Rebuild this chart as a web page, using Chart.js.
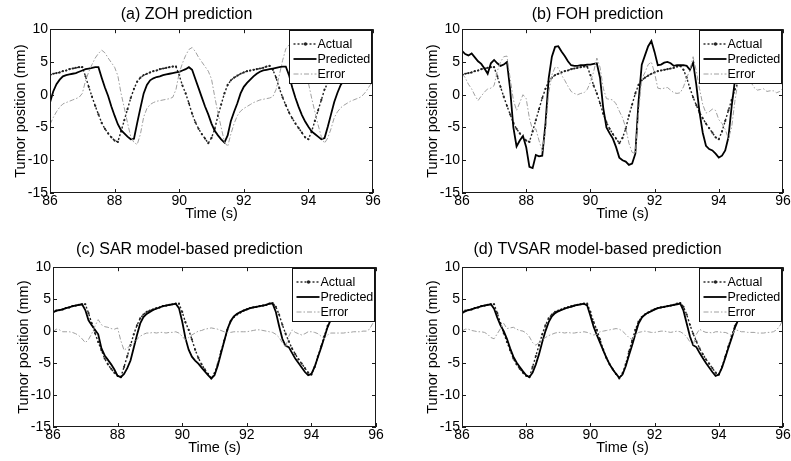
<!DOCTYPE html>
<html>
<head>
<meta charset="utf-8">
<script src="https://cdn.jsdelivr.net/npm/chart.js@4.4.0/dist/chart.umd.min.js"></script>
<style>
  html, body { margin: 0; padding: 0; background: #fff; }
  body { width: 791px; height: 461px; position: relative; overflow: hidden; }
  canvas { position: absolute; }
</style>
</head>
<body>
<canvas id="chartA" width="395" height="225" style="left:0;top:0"></canvas>
<canvas id="chartB" width="379" height="225" style="left:412px;top:0"></canvas>
<canvas id="chartC" width="392" height="221" style="left:3px;top:238px"></canvas>
<canvas id="chartD" width="379" height="221" style="left:412px;top:238px"></canvas>
<script>
// time axis (s), one sample every 0.1 s
const time = [
  86.0, 86.1, 86.2, 86.3, 86.4, 86.5, 86.6, 86.7, 86.8, 86.9,
  87.0, 87.1, 87.2, 87.3, 87.4, 87.5, 87.6, 87.7, 87.8, 87.9,
  88.0, 88.1, 88.2, 88.3, 88.4, 88.5, 88.6, 88.7, 88.8, 88.9,
  89.0, 89.1, 89.2, 89.3, 89.4, 89.5, 89.6, 89.7, 89.8, 89.9,
  90.0, 90.1, 90.2, 90.3, 90.4, 90.5, 90.6, 90.7, 90.8, 90.9,
  91.0, 91.1, 91.2, 91.3, 91.4, 91.5, 91.6, 91.7, 91.8, 91.9,
  92.0, 92.1, 92.2, 92.3, 92.4, 92.5, 92.6, 92.7, 92.8, 92.9,
  93.0, 93.1, 93.2, 93.3, 93.4, 93.5, 93.6, 93.7, 93.8, 93.9,
  94.0, 94.1, 94.2, 94.3, 94.4, 94.5, 94.6, 94.7, 94.8, 94.9,
  95.0, 95.1, 95.2, 95.3, 95.4, 95.5, 95.6, 95.7, 95.8, 95.9,
  96.0
]

const xTicks = [86, 88, 90, 92, 94, 96]
const yTicks = [-15, -10, -5, 0, 5, 10]
const seriesNames = ["Actual", "Predicted", "Error"]
const titles = ["(a) ZOH prediction", "(b) FOH prediction", "(c) SAR model-based prediction", "(d) TVSAR model-based prediction"]

// measured tumor position (same in every panel)
const actual = [
  3.0, 3.2, 3.3, 3.4, 3.6, 3.7, 3.9, 4.0, 4.1, 4.2,
  4.2, 2.8, 1.2, -0.3, -1.7, -3.0, -4.3, -5.2, -5.9, -6.5,
  -7.0, -7.2, -5.6, -3.9, -2.2, -0.5, 0.9, 2.0, 2.6, 3.0,
  3.2, 3.4, 3.6, 3.7, 3.9, 4.0, 4.1, 4.2, 4.3, 4.3,
  3.0, 1.4, 0.2, -1.3, -2.9, -4.2, -5.2, -6.0, -6.7, -7.4,
  -6.6, -5.2, -3.2, -1.5, 0.2, 1.5, 2.2, 2.6, 2.9, 3.2,
  3.4, 3.6, 3.7, 3.8, 3.9, 4.0, 4.1, 4.3, 4.4, 3.8,
  2.6, 1.0, -0.4, -1.6, -2.7, -3.6, -4.4, -5.1, -5.8, -6.5,
  -6.8, -5.6, -4.0, -2.4, -0.8, 0.8, 1.8, 2.4, 2.8, 3.1,
  3.3, 3.5, 3.7, 3.8, 3.9, 4.0, 4.1, 4.3, 4.3, 3.6,
  2.6
]

// (a) ZOH
const zohPred = [
  -1.2, 0.5, 1.6, 2.3, 2.8, 3.0, 3.1, 3.2, 3.3, 3.5,
  3.7, 3.9, 4.0, 4.1, 4.2, 4.2, 2.6, 1.1, -0.2, -1.8,
  -3.2, -4.5, -5.4, -5.9, -6.4, -6.8, -6.7, -4.3, -2.0, 0.2,
  1.5, 2.2, 2.5, 2.7, 2.8, 3.0, 3.1, 3.2, 3.3, 3.4,
  3.5, 3.7, 3.9, 4.2, 3.8, 2.4, 1.0, -0.4, -1.8, -3.0,
  -4.4, -5.5, -6.2, -6.8, -7.3, -6.2, -4.0, -2.6, -1.3, 0.2,
  1.2, 1.8, 2.3, 2.8, 3.2, 3.5, 3.7, 3.8, 3.9, 4.0,
  4.1, 4.2, 4.3, 4.3, 3.0, 1.1, -0.5, -1.9, -3.1, -4.1,
  -4.9, -5.6, -6.0, -6.4, -6.8, -6.6, -4.9, -3.0, -1.1, 0.3,
  1.5, 2.2, 2.7, 3.0, 3.2, 3.4, 3.6, 3.7, 3.8, 3.9,
  4.0
]
const zohErr = [
  -4.5, -3.5, -2.6, -1.9, -1.4, -1.2, -1.0, -0.8, -0.6, -0.4,
  0.2, 2.1, 3.5, 4.6, 5.6, 6.3, 6.8, 6.4, 5.6, 4.9,
  4.2, 2.9, 0.2, -2.0, -4.3, -6.4, -7.3, -7.6, -6.0, -3.4,
  -2.1, -1.5, -1.2, -1.0, -0.9, -0.8, -0.7, -0.6, -0.4, 0.8,
  3.3, 4.8, 6.0, 6.9, 7.2, 6.6, 5.7, 5.0, 4.3, 3.6,
  2.4, -0.3, -2.8, -5.0, -7.2, -7.9, -6.0, -4.4, -3.2, -2.5,
  -2.1, -1.8, -1.5, -1.2, -1.0, -0.8, -0.7, -0.6, -0.5, -0.3,
  0.8, 3.0, 5.2, 7.0, 7.6, 6.8, 5.0, 3.8, 3.0, 2.4,
  1.8, -0.5, -2.6, -4.6, -6.4, -7.4, -6.6, -5.2, -3.5, -2.6,
  -2.0, -1.6, -1.3, -1.0, -0.8, -0.6, -0.4, 0.0, 0.6, 1.4,
  2.0
]

// (b) FOH
const fohPred = [
  6.7, 6.2, 6.0, 6.3, 5.7, 5.1, 4.7, 4.0, 3.2, 4.8,
  5.3, 4.8, 4.4, 4.6, 5.0, 0.8, -5.0, -7.9, -7.0, -6.3,
  -8.0, -11.0, -11.2, -9.2, -9.4, -9.3, -4.5, 2.5, 5.8, 7.3,
  7.4, 6.6, 5.9, 5.1, 4.5, 4.4, 4.4, 4.5, 4.5, 4.6,
  4.6, 4.7, 4.8, 2.6, -2.0, -5.0, -5.9, -6.7, -8.0, -9.6,
  -10.0, -10.2, -10.7, -10.5, -9.0, -1.0, 4.6, 6.0, 7.4, 8.2,
  6.5, 4.5, 4.6, 4.9, 5.0, 4.8, 4.4, 4.5, 4.5, 4.5,
  4.4, 3.8, 4.9, 1.5, -2.7, -5.8, -7.8, -8.3, -8.5, -9.0,
  -9.6, -9.3, -8.5, -6.5, -1.8, 2.1, 4.4, 6.0, 6.8, 6.2,
  5.2, 4.6, 4.4, 4.6, 4.8, 4.5, 4.7, 4.9, 4.6, 3.2,
  1.5
]
const fohErr = [
  3.2, 2.6, 1.6, 0.9, -0.1, -0.9, -0.2, 0.4, 0.9, 1.0,
  1.4, 3.6, 5.0, 5.8, 5.9, 2.5, -0.8, -2.4, -1.2, 0.0,
  -0.6, -3.6, -5.4, -5.2, -7.0, -8.6, -5.5, 0.3, 3.0, 4.2,
  4.1, 3.0, 2.2, 1.3, 0.5, 0.2, 0.0, 0.2, 0.3, 0.8,
  1.9, 3.5, 5.6, 4.2, 1.0, -0.6, -0.7, -0.8, -1.4, -2.5,
  -3.5, -5.0, -7.4, -8.8, -9.0, -2.6, 2.4, 3.4, 4.6, 5.0,
  3.3, 1.0, 0.9, 1.0, 1.1, 0.7, 0.3, 0.2, 0.3, 1.2,
  2.6, 3.7, 5.8, 3.6, 0.9, -1.5, -2.8, -2.6, -2.2, -2.4,
  -3.8, -4.4, -5.3, -6.7, -5.0, -1.0, 2.0, 3.6, 4.0, 3.1,
  1.9, 1.1, 0.7, 0.8, 0.9, 0.5, 0.6, 0.6, 0.3, 0.5,
  1.0
]

// (c) SAR
const sarPred = [
  2.9, 3.2, 3.3, 3.4, 3.6, 3.7, 3.9, 4.0, 4.1, 4.2,
  3.3, 1.7, 0.9, 0.2, -0.5, -2.7, -3.8, -4.5, -5.2, -6.0,
  -7.0, -7.2, -6.7, -5.8, -4.6, -2.6, -0.6, 1.2, 2.2, 2.7,
  3.0, 3.3, 3.5, 3.7, 3.9, 4.0, 4.1, 4.2, 4.3, 3.6,
  1.5, -1.1, -2.9, -4.0, -4.6, -5.1, -5.7, -6.3, -6.9, -7.4,
  -6.9, -5.4, -3.5, -1.6, 0.3, 1.6, 2.3, 2.7, 3.0, 3.2,
  3.4, 3.6, 3.7, 3.8, 3.9, 4.0, 4.1, 4.3, 4.3, 3.0,
  0.8, -1.2, -2.3, -2.5, -3.4, -4.3, -5.0, -5.7, -6.4, -6.9,
  -6.7, -5.6, -4.1, -2.6, -1.0, 0.6, 1.8, 2.3, 2.8, 3.1,
  3.3, 3.5, 3.7, 3.8, 3.9, 4.0, 4.1, 4.2, 4.2, 3.4,
  2.2
]
const sarErr = [
  -0.1, 0.3, 0.2, -0.1, -0.1, -0.1, -0.2, -0.4, -0.7, -1.2,
  -1.8, -1.3, -0.4, 0.8, 1.8, 1.0, 0.7, 0.6, 0.4, 0.3,
  0.5, -1.5, -3.0, -2.6, -2.3, -1.9, -1.3, -0.8, -0.5, -0.3,
  -0.3, -0.2, -0.3, -0.2, -0.2, -0.3, -0.2, -0.2, -0.1, -0.3,
  -0.8, -1.4, -1.0, -0.6, -0.3, 0.0, 0.1, 0.3, 0.4, 0.5,
  0.4, 0.3, 0.1, -0.1, -0.2, -0.2, -0.1, -0.1, -0.1, -0.1,
  -0.1, 0.0, 0.1, 0.2, 0.2, 0.1, 0.0, -0.1, -0.2, -0.5,
  -1.0, -1.8, -2.5, -0.8, 0.2, -0.2, -0.4, -0.6, -0.4, -0.1,
  -0.1, -0.2, -0.4, -0.8, -1.2, -0.6, -0.3, -0.3, -0.3, -0.3,
  -0.3, -0.2, -0.2, -0.1, -0.1, -0.1, 0.0, 0.0, 0.3, 1.2,
  2.6
]

// (d) TVSAR
const tvsarPred = [
  2.8, 3.1, 3.3, 3.4, 3.6, 3.7, 3.9, 4.0, 4.1, 4.2,
  3.5, 2.1, 0.9, 0.0, -1.2, -2.7, -4.0, -4.9, -5.6, -6.3,
  -6.9, -7.2, -6.5, -5.2, -3.6, -1.7, 0.0, 1.4, 2.3, 2.8,
  3.1, 3.3, 3.5, 3.7, 3.8, 4.0, 4.1, 4.2, 4.3, 4.0,
  2.4, 0.7, -0.6, -1.8, -3.0, -4.2, -5.2, -6.0, -6.7, -7.3,
  -6.8, -5.5, -3.8, -2.2, -0.5, 1.2, 2.1, 2.6, 2.9, 3.1,
  3.4, 3.6, 3.7, 3.8, 3.9, 4.0, 4.1, 4.2, 4.3, 3.2,
  1.2, -0.8, -2.2, -2.5, -3.4, -4.2, -5.0, -5.7, -6.4, -7.0,
  -6.8, -5.7, -4.2, -2.6, -1.1, 0.5, 1.7, 2.3, 2.8, 3.1,
  3.3, 3.5, 3.7, 3.8, 3.9, 4.0, 4.1, 4.2, 4.2, 3.6,
  2.6
]
const tvsarErr = [
  0.0, 0.3, 0.3, 0.1, 0.0, -0.1, -0.1, -0.2, -0.5, -1.0,
  -1.2, -0.4, 0.4, 1.2, 0.4, 0.5, 0.6, 0.3, 0.1, 0.0,
  -0.3, -0.9, -1.8, -2.2, -1.8, -1.4, -1.0, -0.7, -0.5, -0.3,
  -0.2, -0.2, -0.3, -0.2, -0.3, -0.3, -0.2, -0.2, -0.1, -0.2,
  -0.4, -0.6, -0.5, -0.1, 0.0, 0.1, 0.2, 0.3, 0.4, 0.3,
  0.0, -0.5, -1.0, -1.3, -0.6, -0.2, -0.1, 0.0, -0.1, -0.2,
  -0.2, -0.1, 0.0, 0.0, -0.1, -0.2, -0.1, 0.0, -0.1, -0.4,
  -0.9, -1.7, -2.2, -0.5, 0.3, 0.0, -0.2, -0.2, -0.3, -0.1,
  -0.1, -0.2, -0.2, -0.4, -0.7, 0.2, 0.1, -0.1, -0.1, -0.2,
  -0.2, -0.2, -0.3, -0.3, -0.3, -0.2, -0.2, -0.1, 0.2, 0.8,
  1.8
]

Chart.defaults.font.family = "'Liberation Sans', Arial, sans-serif"
Chart.defaults.color = "#000"

// box around the axes, inward ticks and the boxed legend inside the plot
const framePlugin = {
  id: "frame",
  afterDatasetsDraw(chart) {
    const { ctx, chartArea: a, scales: { x, y } } = chart
    ctx.save()
    ctx.strokeStyle = "#1a1a1a"
    ctx.lineWidth = 1
    ctx.setLineDash([])
    ctx.strokeRect(Math.round(a.left) + 0.5, Math.round(a.top) + 0.5, Math.round(a.width) - 1, Math.round(a.height) - 1)
    ctx.beginPath()
    xTicks.forEach((v) => {
      const px = Math.round(x.getPixelForValue(v)) + 0.5
      ctx.moveTo(px, a.bottom); ctx.lineTo(px, a.bottom - 4)
      ctx.moveTo(px, a.top); ctx.lineTo(px, a.top + 4)
    })
    yTicks.forEach((v) => {
      const py = Math.round(y.getPixelForValue(v)) + 0.5
      ctx.moveTo(a.left, py); ctx.lineTo(a.left + 4, py)
      ctx.moveTo(a.right, py); ctx.lineTo(a.right - 4, py)
    })
    ctx.stroke()

    // legend
    const bw = 82, bh = 53
    const bx = Math.round(a.right - 2 - bw) + 0.5
    const by = Math.round(a.top + 1) + 0.5
    ctx.fillStyle = "#fff"
    ctx.fillRect(bx, by, bw, bh)
    ctx.strokeStyle = "#111"
    ctx.strokeRect(bx, by, bw, bh)
    ctx.font = "12.5px 'Liberation Sans', Arial, sans-serif"
    ctx.textBaseline = "middle"
    chart.data.datasets.forEach((ds, i) => {
      const ly = Math.round(by + 13 + i * 15)
      ctx.strokeStyle = ds.borderColor
      ctx.lineWidth = ds.borderWidth
      ctx.setLineDash(ds.borderDash || [])
      ctx.beginPath()
      ctx.moveTo(bx + 4, ly)
      ctx.lineTo(bx + 27, ly)
      ctx.stroke()
      if (ds.pointRadius) {
        ctx.fillStyle = ds.pointBackgroundColor
        ctx.beginPath()
        ctx.arc(bx + 16, ly, 1.7, 0, Math.PI * 2)
        ctx.fill()
      }
      ctx.setLineDash([])
      ctx.fillStyle = "#000"
      ctx.fillText(ds.label, bx + 28, ly + 0.5)
    })
    ctx.restore()
  },
}

function makeChart(id, title, pred, err, padRight, titlePad) {
  return new Chart(document.getElementById(id), {
    type: "line",
    data: {
      labels: time,
      datasets: [
        {
          label: seriesNames[0],
          data: actual,
          borderColor: "#222",
          borderWidth: 1.4,
          borderDash: [2, 2],
          pointRadius: 1.1,
          pointBackgroundColor: "#222",
          pointBorderWidth: 0,
          order: 2,
        },
        {
          label: seriesNames[1],
          data: pred,
          borderColor: "#000",
          borderWidth: 1.8,
          pointRadius: 0,
          order: 1,
        },
        {
          label: seriesNames[2],
          data: err,
          borderColor: "#a0a0a0",
          borderWidth: 1,
          borderDash: [5, 2, 1.5, 2],
          pointRadius: 0,
          order: 0,
        },
      ],
    },
    options: {
      responsive: false,
      animation: false,
      events: [],
      layout: { padding: { left: 0, right: padRight, top: 0, bottom: 0 } },
      plugins: {
        legend: { display: false },
        tooltip: { enabled: false },
        title: {
          display: true,
          text: title,
          color: "#000",
          font: { size: 16, weight: "normal" },
          padding: titlePad,
        },
      },
      scales: {
        x: {
          type: "linear",
          min: 86,
          max: 96,
          grid: { display: false, drawTicks: false },
          border: { display: false },
          afterBuildTicks: (s) => { s.ticks = xTicks.map((v) => ({ value: v })) },
          afterFit: (s) => { s.height = 32 },
          ticks: { color: "#000", font: { size: 14 }, padding: 0, maxRotation: 0, autoSkip: false },
          title: { display: true, text: "Time (s)", color: "#000", font: { size: 14.5 }, padding: { top: 0, bottom: 2 } },
        },
        y: {
          min: -15,
          max: 10,
          grid: { display: false, drawTicks: false },
          border: { display: false },
          afterBuildTicks: (s) => { s.ticks = yTicks.map((v) => ({ value: v })) },
          afterFit: (s) => { s.width = 50 },
          ticks: { color: "#000", font: { size: 14 }, padding: 2 },
          title: { display: true, text: "Tumor position (mm)", color: "#000", font: { size: 14.5 }, padding: { top: 12, bottom: 0 } },
        },
      },
    },
    plugins: [framePlugin],
  })
}

makeChart("chartA", titles[0], zohPred, zohErr, 22, { top: 5, bottom: 5 })
makeChart("chartB", titles[1], fohPred, fohErr, 8, { top: 5, bottom: 5 })
makeChart("chartC", titles[2], sarPred, sarErr, 19, { top: 2, bottom: 8 })
makeChart("chartD", titles[3], tvsarPred, tvsarErr, 8, { top: 2, bottom: 8 })
</script>
</body>
</html>
